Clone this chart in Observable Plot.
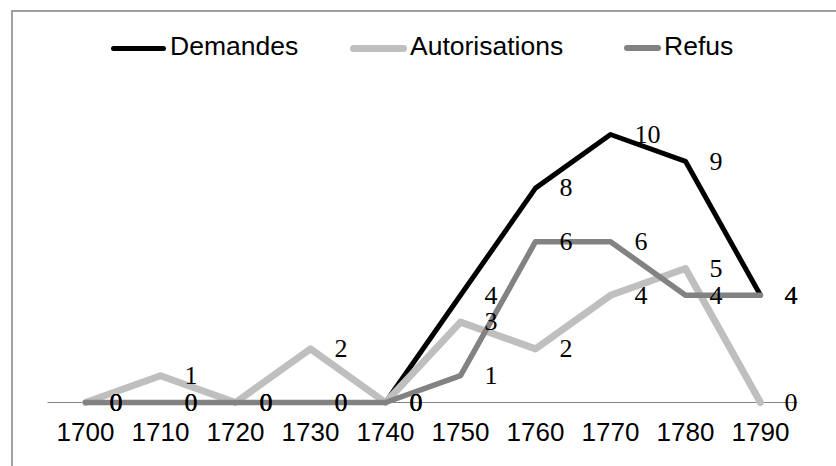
<!DOCTYPE html>
<html>
<head>
<meta charset="utf-8">
<script src="https://cdn.jsdelivr.net/npm/d3@7"></script>
<script src="https://cdn.jsdelivr.net/npm/@observablehq/plot@0.6"></script>
<style>
  html, body { margin: 0; padding: 0; background: #fff; }
  #wrap { position: relative; width: 836px; height: 466px; overflow: hidden; background: #fff; }
  #frame { position: absolute; left: 11px; top: 10px; right: -4px; bottom: -4px;
           border-left: 2px solid #a0a0a0; border-top: 2px solid #a0a0a0; pointer-events: none; }
  #legend { position: absolute; left: 0; top: 0; width: 836px; height: 60px;
            font-family: "Liberation Sans", Arial, sans-serif; font-size: 26.5px; color: #000; }
  #legend .sw { position: absolute; border-radius: 4px; }
  #legend .lab { position: absolute; top: 32px; line-height: 29px; white-space: nowrap; }
  #chart { position: absolute; left: 0; top: 60px; }
</style>
</head>
<body>
<div id="wrap">
  <div id="frame"></div>
  <div id="legend"></div>
  <div id="chart"></div>
</div>
<script>
// ---- data ----
const years = ["1700", "1710", "1720", "1730", "1740", "1750", "1760", "1770", "1780", "1790"];
const seriesNames = ["Demandes", "Autorisations", "Refus"];
const demandes = [0, 0, 0, 0, 0, 4, 8, 10, 9, 4];
const autorisations = [0, 1, 0, 2, 0, 3, 2, 4, 5, 0];
const refus = [0, 0, 0, 0, 0, 1, 6, 6, 4, 4];

const colors = {Demandes: "#000000", Autorisations: "#bfbfbf", Refus: "#828282"};
const widths = {Demandes: 5, Autorisations: 7, Refus: 5.5};

const valuesBySeries = {Demandes: demandes, Autorisations: autorisations, Refus: refus};
const rows = seriesNames.flatMap(s => years.map((y, i) => ({series: s, year: y, value: valuesBySeries[s][i]})));

// ---- legend (HTML, above the svg) ----
const legendPos = {
  Demandes: {sx: 111, sw: 55, tx: 170},
  Autorisations: {sx: 350, sw: 57, tx: 410},
  Refus: {sx: 624, sw: 37, tx: 664}
};
const legend = document.getElementById("legend");
for (const s of seriesNames) {
  const p = legendPos[s];
  const sw = document.createElement("div");
  sw.className = "sw";
  sw.style.left = p.sx + "px";
  sw.style.width = p.sw + "px";
  sw.style.height = widths[s] + "px";
  sw.style.top = (48 - widths[s] / 2) + "px";
  sw.style.background = colors[s];
  legend.appendChild(sw);
  const t = document.createElement("div");
  t.className = "lab";
  t.style.left = p.tx + "px";
  t.textContent = s;
  legend.appendChild(t);
}

// ---- chart ----
const marks = [
  Plot.ruleY([0], {stroke: "#868686", strokeWidth: 1.2}),
  Plot.axisX({tickSize: 0, tickPadding: 20, fontSize: 26, fill: "#000", label: null,
              fontFamily: "Liberation Sans, Arial, sans-serif"})
];
for (const s of seriesNames) {
  marks.push(Plot.line(rows.filter(d => d.series === s), {
    x: "year", y: "value", stroke: colors[s], strokeWidth: widths[s],
    strokeLinejoin: "round", strokeLinecap: "round"
  }));
}
for (const s of seriesNames) {
  marks.push(Plot.text(rows.filter(d => d.series === s), {
    x: "year", y: "value", text: d => String(d.value), dx: 24, textAnchor: "start",
    fontSize: 26, fill: "#000", fontFamily: "Liberation Serif, Times New Roman, serif"
  }));
}

const svg = Plot.plot({
  width: 836,
  height: 406,
  marginLeft: 47.5,
  marginRight: 38.5,
  marginTop: 74,
  marginBottom: 64,
  style: {background: "transparent", color: "#000", fontFamily: "Liberation Sans, Arial, sans-serif", overflow: "visible"},
  x: {type: "point", domain: years, padding: 0.5, axis: null, label: null},
  y: {domain: [0, 10], axis: null},
  marks
});
document.getElementById("chart").appendChild(svg);
</script>
</body>
</html>
